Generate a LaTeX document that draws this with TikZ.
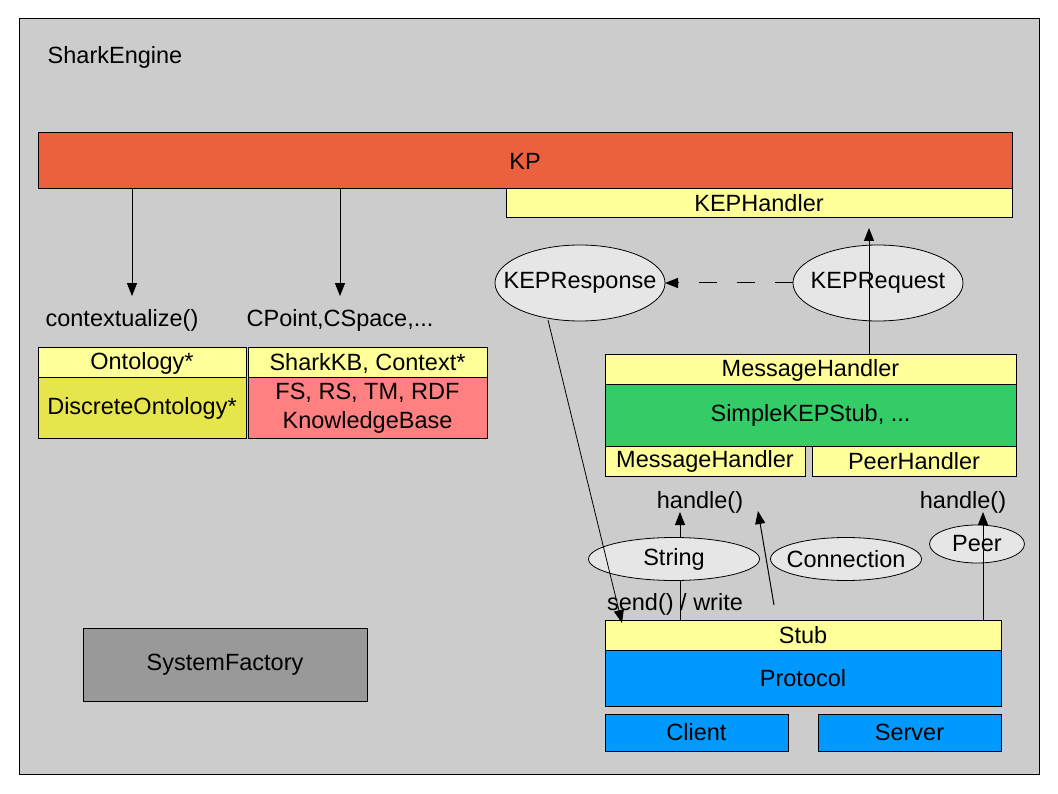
\documentclass[tikz,border=0pt]{standalone}
\usepackage{fontspec}
\setmainfont{Liberation Sans}
\usetikzlibrary{shapes.geometric,arrows.meta}
\definecolor{bg}{HTML}{CCCCCC}
\definecolor{kpred}{HTML}{EB613D}
\definecolor{lyellow}{HTML}{FFFF99}
\definecolor{olive}{HTML}{E6E64C}
\definecolor{pink}{HTML}{FF8080}
\definecolor{lgreen}{HTML}{33CC66}
\definecolor{lblue}{HTML}{0099FF}
\definecolor{dgray}{HTML}{999999}
\definecolor{ell}{HTML}{E6E6E6}
\tikzset{
  box/.style={draw=black, line width=1pt, rectangle, anchor=north west, inner sep=0pt, outer sep=0pt, align=center},
  oval/.style={draw=black, line width=0.8pt, ellipse, fill=ell, inner sep=0pt, outer sep=0pt},
  lbl/.style={inner sep=0pt, outer sep=0pt},
  tip/.style={-{Triangle[length=13pt,width=10pt]}},
  arr/.style={line width=1pt, tip},
  ln/.style={line width=1pt}
}
\begin{document}
\begin{tikzpicture}[x=1pt,y=-1pt,font=\fontsize{23.5}{25}\selectfont]
\useasboundingbox (0,0) rectangle (1058,794);
\node[box, fill=bg, minimum width=1020pt, minimum height=755pt] (engine) at (19,19) {};
\node[lbl] (title) at (115,57) {SharkEngine};
% KP
\node[box, fill=kpred, minimum width=974pt, minimum height=56pt] (kp) at (38,133) {KP};
\node[box, fill=lyellow, minimum width=506pt, minimum height=29pt] (keph) at (506,189) {KEPHandler};
% left labels
\node[lbl] (ctx) at (122,320) {contextualize()};
\node[lbl] (cpt) at (340,320) {CPoint,CSpace,...};
\draw[arr] ([xshift=94pt]kp.south west) -- ([xshift=10pt,yshift=13pt]ctx.north);
\draw[arr] ([xshift=302pt]kp.south west) -- ([yshift=13pt]cpt.north);
% ontology boxes
\node[box, fill=lyellow, minimum width=208pt, minimum height=30pt] (onto) at (38,348) {Ontology*};
\node[box, fill=olive, minimum width=208pt, minimum height=60pt] (donto) at (38,378) {DiscreteOntology*};
\node[box, fill=lyellow, minimum width=239pt, minimum height=30pt] (skb) at (248,348) {SharkKB, Context*};
\node[box, fill=pink, minimum width=239pt, minimum height=60pt] (fsrs) at (248,378) {FS, RS, TM, RDF\\[4pt]KnowledgeBase};
% ellipses KEP
\node[oval, minimum width=170pt, minimum height=76pt, label={center:KEPResponse}] (resp) at (580,283) {};
\node[oval, minimum width=170pt, minimum height=76pt, label={center:KEPRequest}] (req) at (878,283) {};
\draw[line width=1pt, dash pattern=on 18pt off 20pt, tip] (req.west) -- (resp.east);
% message handler group
\node[box, fill=lyellow, minimum width=411pt, minimum height=30pt] (mh) at (605,355) {MessageHandler};
\node[box, fill=lgreen, minimum width=411pt, minimum height=61pt] (simple) at (605,385) {SimpleKEPStub, ...};
\node[box, fill=lyellow, minimum width=200pt, minimum height=30pt] (mh2) at (605,446) {MessageHandler};
\node[box, fill=lyellow, minimum width=204pt, minimum height=30pt] (ph) at (812,446) {PeerHandler};
\draw[arr] (mh.north -| 869,0) -- ([yshift=-10pt]keph.south -| 869,0);
% handle labels and ellipses
\node[lbl] (h1) at (700,502) {handle()};
\node[lbl] (h2) at (963,502) {handle()};
\node[oval, minimum width=171pt, minimum height=43pt, label={center:String}] (str) at (674,559) {};
\node[oval, minimum width=151pt, minimum height=43pt, label={center:Connection}] (conn) at (846,559) {};
\node[oval, minimum width=95pt, minimum height=38pt, label={center:Peer}] (peer) at (977,544) {};
\node[lbl] (send) at (675,604) {send() / write};
% stub / protocol
\node[box, fill=lyellow, minimum width=396pt, minimum height=30pt] (stub) at (605,620) {Stub};
\node[box, fill=lblue, minimum width=396pt, minimum height=56pt] (proto) at (605,650) {Protocol};
\node[box, fill=lblue, minimum width=183pt, minimum height=37pt] (client) at (605,714) {Client};
\node[box, fill=lblue, minimum width=183pt, minimum height=37pt] (server) at (818,714) {Server};
\node[box, fill=dgray, minimum width=284pt, minimum height=73pt] (sf) at (83,628) {SystemFactory};
% connectors lower
\coordinate (stubx) at ([xshift=75pt]stub.north west);
\draw[ln] (stubx) -- (stubx |- str.south);
\draw[arr] (stubx |- str.north) -- (stubx |- 0,512);
\coordinate (peerx) at ([xshift=378pt]stub.north west);
\draw[arr] (peerx) -- (peerx |- 0,512);
\coordinate (obl) at (774,605);
\coordinate (oblt) at (758,511);
\draw[arr] (obl) -- (oblt);
\coordinate (respb) at (548,320);
\draw[line width=0.8pt, tip] (respb) -- ([xshift=17pt,yshift=-3pt]stub.north west);
\end{tikzpicture}
\end{document}
